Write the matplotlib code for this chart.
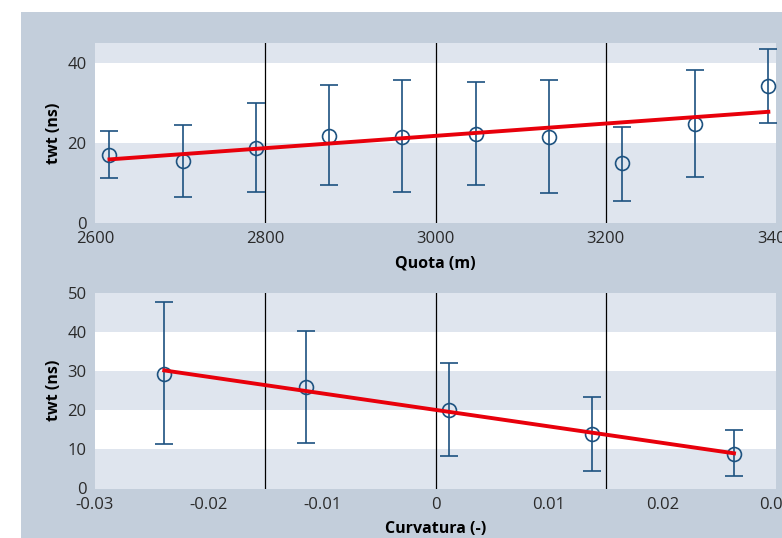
import matplotlib
matplotlib.use("Agg")
import matplotlib.pyplot as plt
from matplotlib.patches import Rectangle
import numpy as np

plt.rcParams['font.family'] = ['Open Sans', 'DejaVu Sans']
plt.rcParams['axes.unicode_minus'] = False

# top panel: twt vs quota
quota = [2617, 2703, 2789, 2875, 2961, 3047, 3133, 3219, 3305, 3391]
quota_twt = [17.0, 15.4, 18.7, 21.8, 21.6, 22.3, 21.6, 14.9, 24.8, 34.2]
quota_hi = [23.1, 24.4, 29.9, 34.4, 35.7, 35.2, 35.7, 24.1, 38.3, 43.5]
quota_lo = [11.2, 6.6, 7.7, 9.4, 7.7, 9.4, 7.4, 5.4, 11.6, 24.9]
quota_fit = [15.9, 27.8]
quota_xticks = [2600, 2800, 3000, 3200, 3400]
quota_yticks = [0, 20, 40]
quota_vlines = [2800, 3000, 3200]

# bottom panel: twt vs curvatura
curv = [-0.0239, -0.0114, 0.0012, 0.0138, 0.0263]
curv_twt = [29.4, 26.0, 20.1, 13.9, 8.9]
curv_hi = [47.8, 40.4, 32.0, 23.4, 15.0]
curv_lo = [11.4, 11.6, 8.4, 4.5, 3.1]
curv_fit = [30.2, 9.0]
curv_xticks = [-0.03, -0.02, -0.01, 0, 0.01, 0.02, 0.03]
curv_xlabels = ['-0.03', '-0.02', '-0.01', '0', '0.01', '0.02', '0.03']
curv_yticks = [0, 10, 20, 30, 40, 50]
curv_vlines = [-0.015, 0, 0.015]

panel_col = '#c3cedb'
band_col = '#dfe5ee'
pt_col = '#1d5280'
fit_col = '#e8000b'

fig = plt.figure(figsize=(7.82, 5.38), dpi=100)
# grey panel behind both charts (white strip left and top)
fig.patches.append(Rectangle((21 / 782, 0), 1, 526 / 538, transform=fig.transFigure,
                             facecolor=panel_col, edgecolor='none', zorder=-10))


def draw_panel(ax, x, y, lo, hi, fit, xlim, ylim, yticks, vlines, xlabel):
    ax.set_facecolor('white')
    step = yticks[1] - yticks[0]
    for i, t in enumerate(yticks):
        if i % 2 == 0:
            ax.axhspan(t, t + step, color=band_col, lw=0, zorder=0)
    for v in vlines:
        ax.axvline(v, color='black', lw=0.9, zorder=1)
    y = np.array(y)
    err = [y - np.array(lo), np.array(hi) - y]
    ax.errorbar(x, y, yerr=err, fmt='o', mfc='none', mec=pt_col, ecolor=pt_col,
                ms=10, mew=1.2, elinewidth=1.2, capsize=6.5, capthick=1.2, zorder=3)
    ax.plot([x[0], x[-1]], fit, color=fit_col, lw=2.8, zorder=4)
    ax.set_xlim(xlim)
    ax.set_ylim(ylim)
    ax.set_yticks(yticks)
    for s in ax.spines.values():
        s.set_visible(False)
    ax.tick_params(length=0, labelsize=12, labelcolor='#2a2a2a', pad=6)
    ax.set_ylabel('twt (ns)', fontsize=11.5, fontweight='bold', labelpad=4)
    ax.set_xlabel(xlabel, fontsize=11.5, fontweight='bold', labelpad=6)


ax1 = fig.add_axes([95 / 782, 1 - 223 / 538, 681 / 782, 180 / 538])
draw_panel(ax1, quota, quota_twt, quota_lo, quota_hi, quota_fit,
           (2600, 3400), (0, 45), quota_yticks, quota_vlines, 'Quota (m)')
ax1.set_xticks(quota_xticks)

ax2 = fig.add_axes([95 / 782, 1 - 488.5 / 538, 681 / 782, 195.5 / 538])
draw_panel(ax2, curv, curv_twt, curv_lo, curv_hi, curv_fit,
           (-0.03, 0.03), (0, 50), curv_yticks, curv_vlines, 'Curvatura (-)')
ax2.set_xticks(curv_xticks)
ax2.set_xticklabels(curv_xlabels)

fig.savefig('out.png', dpi=100)
